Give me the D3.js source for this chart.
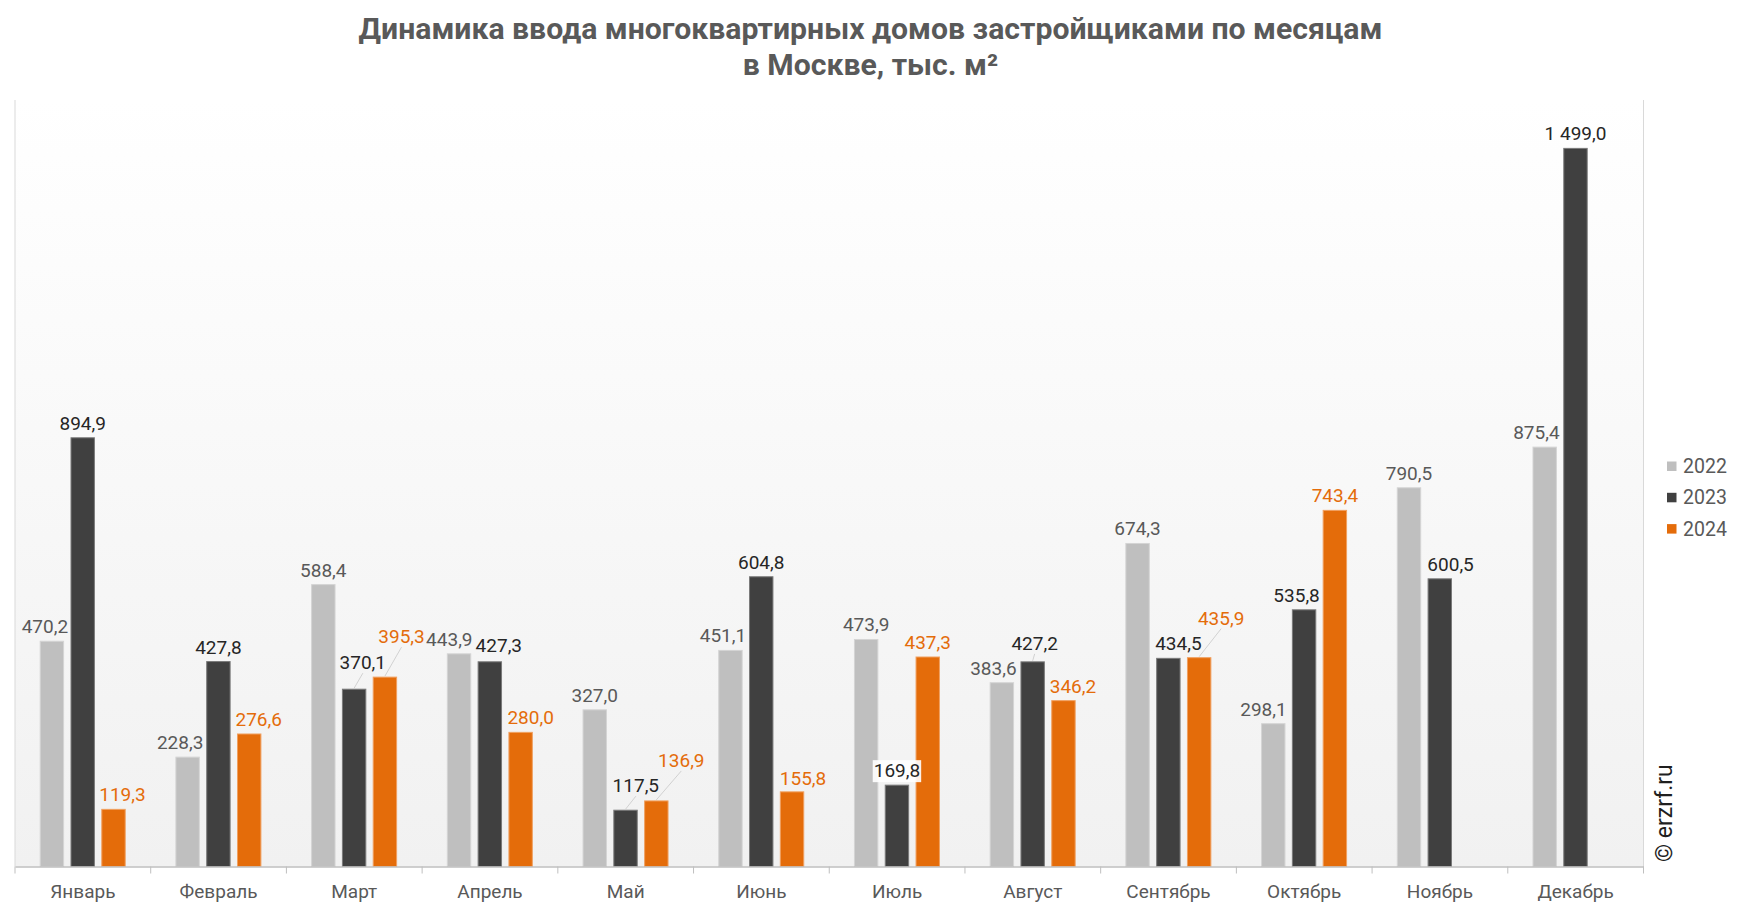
<!DOCTYPE html>
<html>
<head>
<meta charset="utf-8">
<script src="https://cdn.jsdelivr.net/npm/d3@7"></script>
<style>
  body { margin: 0; background: #fff; }
  text { font-family: Roboto, "Noto Sans", sans-serif; }
</style>
</head>
<body>
<div id="chart"></div>
<script>

// data
var months = ["Январь", "Февраль", "Март", "Апрель", "Май", "Июнь",
              "Июль", "Август", "Сентябрь", "Октябрь", "Ноябрь", "Декабрь"];
var years = ["2022", "2023", "2024"];
var v2022 = [470.2, 228.3, 588.4, 443.9, 327.0, 451.1, 473.9, 383.6, 674.3, 298.1, 790.5, 875.4];
var v2023 = [894.9, 427.8, 370.1, 427.3, 117.5, 604.8, 169.8, 427.2, 434.5, 535.8, 600.5, 1499.0];
var v2024 = [119.3, 276.6, 395.3, 280.0, 136.9, 155.8, 437.3, 346.2, 435.9, 743.4, null, null];

// label nudges (month index, series index, dx, dy, leader line)
var nudges = [
  [0, 0, -7, 0], [0, 2, 9, 0],
  [1, 0, -7.5, 0], [1, 2, 9.5, 0],
  [2, 1, 8.7, -12, 1], [2, 2, 16.6, -26, 1],
  [3, 0, -9.7, 0], [3, 1, 9, -2], [3, 2, 10, 0],
  [4, 1, 10.3, -10, 1], [4, 2, 25, -26, 1],
  [5, 0, -7.5, 0], [5, 2, 11, 1],
  [7, 0, -8.5, 0], [7, 1, 2, -4, 1], [7, 2, 9.5, 0],
  [8, 1, 10, 0], [8, 2, 22, -25, 1],
  [9, 0, -9.8, 0], [9, 1, -7.5, 0],
  [10, 1, 10.8, 0],
  [11, 0, -8.3, 0]
];

var colors = ["#bfbfbf", "#404040", "#e46c0a"];
var strokes = ["#d4d4d4", "#7a7a7a", "#f0a060"];
var labelColors = ["#595959", "#262626", "#e46c0a"];

var width = 1741, height = 912;
var plot = {left: 15, right: 1643.5, top: 100, bottom: 866.5};

var svg = d3.select("#chart")
  .append("svg")
    .attr("width", width)
    .attr("height", height);

var series = [v2022, v2023, v2024];
var data = [];
months.forEach(function(m, i) {
  series.forEach(function(s, j) {
    if (s[i] != null) data.push({month: m, mi: i, year: years[j], si: j, value: s[i]});
  });
});
var nudgeMap = {};
nudges.forEach(function(n) { nudgeMap[n[0] + ":" + n[1]] = n; });

var x0 = d3.scaleBand()
  .domain(months)
  .range([plot.left, plot.right])
  .padding(0);

var x1 = d3.scaleBand()
  .domain(years)
  .range([25.2, 110.2])
  .paddingInner(0.24)
  .paddingOuter(0);

var y = d3.scaleLinear()
  .domain([0, 1600])
  .range([plot.bottom, plot.top]);

var ru = d3.formatLocale({decimal: ",", thousands: "\u00a0", grouping: [3], currency: ["", ""]});
var fmt = ru.format(",.1f");

// background gradient of the plot area
var grad = svg.append("defs").append("linearGradient")
  .attr("id", "bg")
  .attr("x1", 0).attr("y1", 0).attr("x2", 0).attr("y2", 1);
grad.append("stop").attr("offset", "0%").attr("stop-color", "#ffffff");
grad.append("stop").attr("offset", "100%").attr("stop-color", "#f1f1f1");

svg.append("rect")
  .attr("x", plot.left)
  .attr("y", plot.top)
  .attr("width", plot.right - plot.left)
  .attr("height", plot.bottom - plot.top)
  .style("fill", "url(#bg)");

// side borders
[plot.left, plot.right].forEach(function(xx) {
  svg.append("line")
    .attr("x1", xx).attr("x2", xx)
    .attr("y1", plot.top).attr("y2", plot.bottom)
    .style("stroke", "#d9d9d9")
    .style("stroke-width", 1);
});

// bars
svg.selectAll(".bar")
  .data(data)
  .enter()
  .append("rect")
    .attr("class", "bar")
    .attr("x", function(d) { return x0(d.month) + x1(d.year); })
    .attr("y", function(d) { return y(d.value); })
    .attr("width", x1.bandwidth())
    .attr("height", function(d) { return y(0) - y(d.value); })
    .style("fill", function(d) { return colors[d.si]; })
    .style("stroke", function(d) { return strokes[d.si]; })
    .style("stroke-width", 1);

// x axis
var xAxis = svg.append("g")
  .attr("transform", "translate(0," + plot.bottom + ")")
  .call(d3.axisBottom(x0).tickSize(0).tickPadding(18));
xAxis.select(".domain").style("stroke", "#bfbfbf").style("stroke-width", 1.5);
xAxis.selectAll("text")
  .style("font-size", "19px")
  .style("fill", "#595959");

// tick marks at category boundaries
svg.selectAll(".tk")
  .data(months.concat(["end"]))
  .enter()
  .append("line")
    .attr("x1", function(d, i) { return plot.left + i * x0.step(); })
    .attr("x2", function(d, i) { return plot.left + i * x0.step(); })
    .attr("y1", plot.bottom)
    .attr("y2", plot.bottom + 7)
    .style("stroke", "#bfbfbf")
    .style("stroke-width", 1);

// data labels
function labelPos(d) {
  var cx = x0(d.month) + x1(d.year) + x1.bandwidth() / 2;
  var top = y(d.value);
  var n = nudgeMap[d.mi + ":" + d.si];
  var dx = n ? n[2] : 0, dy = n ? n[3] : 0;
  return {bx: cx, by: top, lx: cx + dx, ly: top - 8 + dy, lead: n && n[4]};
}

// leader lines
svg.selectAll(".lead")
  .data(data.filter(function(d) { return labelPos(d).lead; }))
  .enter()
  .append("line")
    .attr("x1", function(d) { return labelPos(d).bx; })
    .attr("y1", function(d) { return labelPos(d).by - 1; })
    .attr("x2", function(d) { return labelPos(d).lx; })
    .attr("y2", function(d) { return labelPos(d).ly + 4; })
    .style("stroke", "#c8c8c8")
    .style("stroke-width", 0.8);

var labels = svg.selectAll(".lbl")
  .data(data)
  .enter()
  .append("text")
    .attr("class", "lbl")
    .attr("x", function(d) { return labelPos(d).lx; })
    .attr("y", function(d) { return labelPos(d).ly; })
    .attr("text-anchor", "middle")
    .style("font-size", "19px")
    .style("fill", function(d) { return labelColors[d.si]; })
    .text(function(d) { return fmt(d.value); });

// white box behind the July 2023 label
labels.filter(function(d) { return d.mi === 6 && d.si === 1; })
  .each(function() {
    var b = this.getBBox();
    svg.insert("rect", function() { return this; }.bind(this))
      .attr("x", b.x - 1)
      .attr("y", b.y + 1)
      .attr("width", b.width + 2)
      .attr("height", b.height - 1)
      .style("fill", "#ffffff")
      .style("opacity", 0.9);
  });

// legend
var legend = svg.append("g")
  .attr("transform", "translate(1667,473)");
years.forEach(function(yr, i) {
  var g = legend.append("g").attr("transform", "translate(0," + (i * 31.3) + ")");
  g.append("rect")
    .attr("x", 0).attr("y", -11.5)
    .attr("width", 9.5).attr("height", 9.5)
    .style("fill", colors[i]);
  g.append("text")
    .attr("x", 16).attr("y", 0)
    .style("font-size", "19.5px")
    .style("fill", "#595959")
    .text(yr);
});

// title
var title = svg.append("g");
var t1 = title.append("text")
  .attr("x", width / 2).attr("y", 39)
  .attr("text-anchor", "middle")
  .style("font-size", "29px")
  .style("font-weight", "bold")
  .style("fill", "#595959")
  .text("Динамика ввода многоквартирных домов застройщиками по месяцам");
var t2 = title.append("text")
  .attr("x", width / 2).attr("y", 75)
  .attr("text-anchor", "middle")
  .style("font-size", "29px")
  .style("font-weight", "bold")
  .style("fill", "#595959")
  .text("в Москве, тыс. м²");
// squeeze to the narrow look of the original
var k = 1024 / t1.node().getComputedTextLength();
title.attr("transform", "translate(" + (width / 2) + ",0) scale(" + k + ",1) translate(" + (-width / 2) + ",0)");

// copyright
svg.append("text")
  .attr("transform", "translate(1672,862) rotate(-90)")
  .style("font-size", "23px")
  .style("fill", "#1f1f1f")
  .text("© erzrf.ru");

</script>
</body>
</html>
